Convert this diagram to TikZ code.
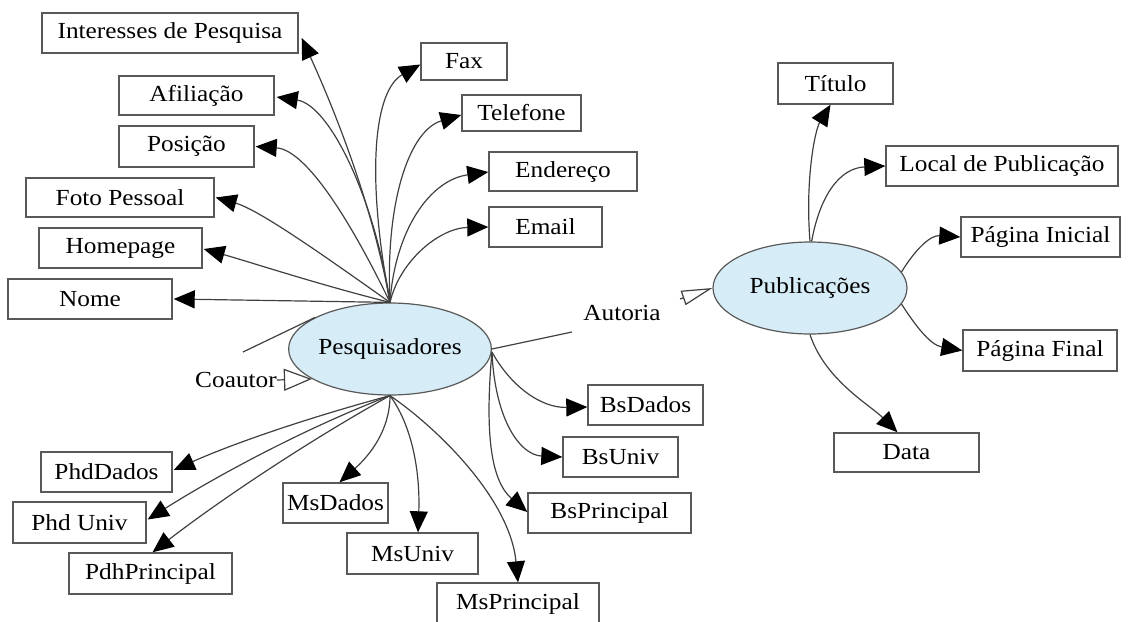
\documentclass[tikz,border=0pt]{standalone}
\usepackage{fontspec}
\setmainfont{Liberation Serif}[FakeStretch=1.1]
\usetikzlibrary{arrows.meta,calc,shapes.geometric}
\begin{document}
\begin{tikzpicture}[x=1pt,y=-1pt,
  box/.style={draw=black!65, line width=1.4pt, fill=white, inner sep=0pt,
              font=\fontsize{23}{27}\selectfont},
  ent/.style={ellipse, draw=black!65, line width=1.2pt,
              fill={rgb,255:red,214;green,236;blue,246}, inner sep=0pt,
              minimum width=194pt, minimum height=92pt, font=\fontsize{23}{27}\selectfont},
  lbl/.style={inner sep=0pt, font=\fontsize{23}{27}\selectfont},
  arr/.style={draw=black!75, line width=1.2pt, -{Triangle[length=21pt,width=18pt,color=black]}},
  ln/.style={draw=black!75, line width=1.2pt},
  opentri/.style={draw=black!75, line width=1.2pt, -{Triangle[open,length=28pt,width=22pt,fill=white]}},
  opentrib/.style={draw=black!75, line width=1.2pt, -{Triangle[open,length=31pt,width=15pt,fill=white]}}
]
\useasboundingbox (0,0) rectangle (1134,621);

% entities
\node[ent] (pesq) at (390,349) {Pesquisadores};
\node[ent] (pub)  at (810,288) {Publicações};

% attribute boxes of Pesquisadores
\node[box, minimum width=256pt, minimum height=40pt] (int)   at (170,33)    {Interesses de Pesquisa};
\node[box, minimum width=155pt, minimum height=39pt] (afi)   at (196.5,95.5) {Afiliação};
\node[box, minimum width=135pt, minimum height=41pt] (pos)   at (186.5,146.5) {Posição};
\node[box, minimum width=188pt, minimum height=39pt] (foto)  at (120,197.5) {Foto Pessoal};
\node[box, minimum width=163pt, minimum height=40pt] (home)  at (120.5,248) {Homepage};
\node[box, minimum width=164pt, minimum height=40pt] (nome)  at (90,299)    {Nome};
\node[box, minimum width=86pt,  minimum height=37pt] (fax)   at (464,61.5)  {Fax};
\node[box, minimum width=119pt, minimum height=36pt] (tel)   at (521.5,113) {Telefone};
\node[box, minimum width=148pt, minimum height=39pt] (ende)  at (563,171.5) {Endereço};
\node[box, minimum width=113pt, minimum height=40pt] (email) at (545.5,227) {Email};
\node[box, minimum width=115pt, minimum height=40pt] (bsd)   at (645.5,405) {BsDados};
\node[box, minimum width=115pt, minimum height=40pt] (bsu)   at (620.5,457) {BsUniv};
\node[box, minimum width=163pt, minimum height=40pt] (bsp)   at (609.5,513) {BsPrincipal};
\node[box, minimum width=105pt, minimum height=40pt] (msd)   at (335.5,503) {MsDados};
\node[box, minimum width=131pt, minimum height=41pt] (msu)   at (412.5,553.5) {MsUniv};
\node[box, minimum width=162pt, minimum height=42pt] (msp)   at (518,604)   {MsPrincipal};
\node[box, minimum width=131pt, minimum height=40pt] (phdd)  at (106.5,472) {PhdDados};
\node[box, minimum width=133pt, minimum height=41pt] (phdu)  at (79.5,522.5) {Phd Univ};
\node[box, minimum width=163pt, minimum height=41pt] (pdhp)  at (150.5,573.5) {PdhPrincipal};

% attribute boxes of Publicações
\node[box, minimum width=115pt, minimum height=41pt] (tit)   at (835.5,83.5) {Título};
\node[box, minimum width=232pt, minimum height=40pt] (local) at (1002,166)   {Local de Publicação};
\node[box, minimum width=159pt, minimum height=40pt] (pini)  at (1040.5,237) {Página Inicial};
\node[box, minimum width=154pt, minimum height=41pt] (pfin)  at (1040,350.5) {Página Final};
\node[box, minimum width=145pt, minimum height=39pt] (data)  at (906.5,452.5) {Data};

% relationship labels
\node[lbl] (aut) at (622,313) {Autoria};
\node[lbl] (coa) at (236,380) {Coautor};
\coordinate (autend) at (572,332);
\coordinate (autstart) at (680,299);
\coordinate (coafree) at (243,352);

% upper attributes
\draw[arr] (pesq.north) .. controls (372,200) and (330,100) .. ($(int.east)+(3,5)$);
\draw[arr] (pesq.north) .. controls (375,200) and (330,105) .. ($(afi.east)+(2,1.5)$);
\draw[arr] (pesq.north) .. controls (360,240) and (310,150) .. ($(pos.east)+(1,0)$);
\draw[arr] (pesq.north) .. controls (330,260) and (260,210) .. ($(foto.east)+(1,0)$);
\draw[arr] (pesq.north) .. controls (320,285) and (250,262) .. ($(home.east)+(1,1)$);
\draw[arr] (pesq.north) -- ($(nome.east)+(1,0)$);
\draw[arr] (pesq.north) .. controls (365,170) and (375,90) .. ($(fax.west)+(0,3)$);
\draw[arr] (pesq.north) .. controls (385,200) and (410,130) .. ($(tel.west)+(0,2)$);
\draw[arr] (pesq.north) .. controls (395,230) and (430,180) .. ($(ende.west)+(0,0.5)$);
\draw[arr] (pesq.north) .. controls (400,260) and (440,228) .. (email.west);

% right attributes
\draw[arr] ($(pesq.east)+(0,3)$) .. controls (510,385) and (540,408) .. ($(bsd.west)+(0,2)$);
\draw[arr] ($(pesq.east)+(0,3)$) .. controls (495,420) and (520,455) .. (bsu.west);
\draw[arr] ($(pesq.east)+(0,3)$) .. controls (485,430) and (490,480) .. ($(bsp.west)+(0,-1)$);

% lower attributes
\draw[arr] (pesq.south) .. controls (300,420) and (230,445) .. ($(phdd.east)+(1,-2)$);
\draw[arr] (pesq.south) .. controls (300,430) and (210,480) .. ($(phdu.east)+(1,-3)$);
\draw[arr] (pesq.south) .. controls (310,440) and (220,500) .. ($(pdhp.north)+(2,0)$);
\draw[arr] (pesq.south) .. controls (390,430) and (370,455) .. ($(msd.north)+(4,0)$);
\draw[arr] (pesq.south) .. controls (415,430) and (420,480) .. ($(msu.north)+(5.5,0)$);
\draw[arr] (pesq.south) .. controls (440,430) and (510,500) .. (msp.north);

% Publicações attributes
\draw[arr] (pub.north) .. controls (805,180) and (815,130) .. ($(tit.south)+(-5,0)$);
\draw[arr] (pub.88) .. controls (820,195) and (840,168) .. (local.west);
\draw[arr] (pub.10) .. controls (915,250) and (930,235) .. (pini.west);
\draw[arr] (pub.-10) .. controls (915,325) and (930,345) .. (pfin.west);
\draw[arr] (pub.south) .. controls (825,380) and (870,405) .. ($(data.north)+(-9,0)$);

% relationships
\draw[ln] (pesq.east) -- (autend);
\draw[opentrib] (autstart) -- (pub.west);
\draw[ln] (pesq.157) -- (coafree);
\draw[opentri] (coa.east) -- (pesq.201);
\end{tikzpicture}
\end{document}
